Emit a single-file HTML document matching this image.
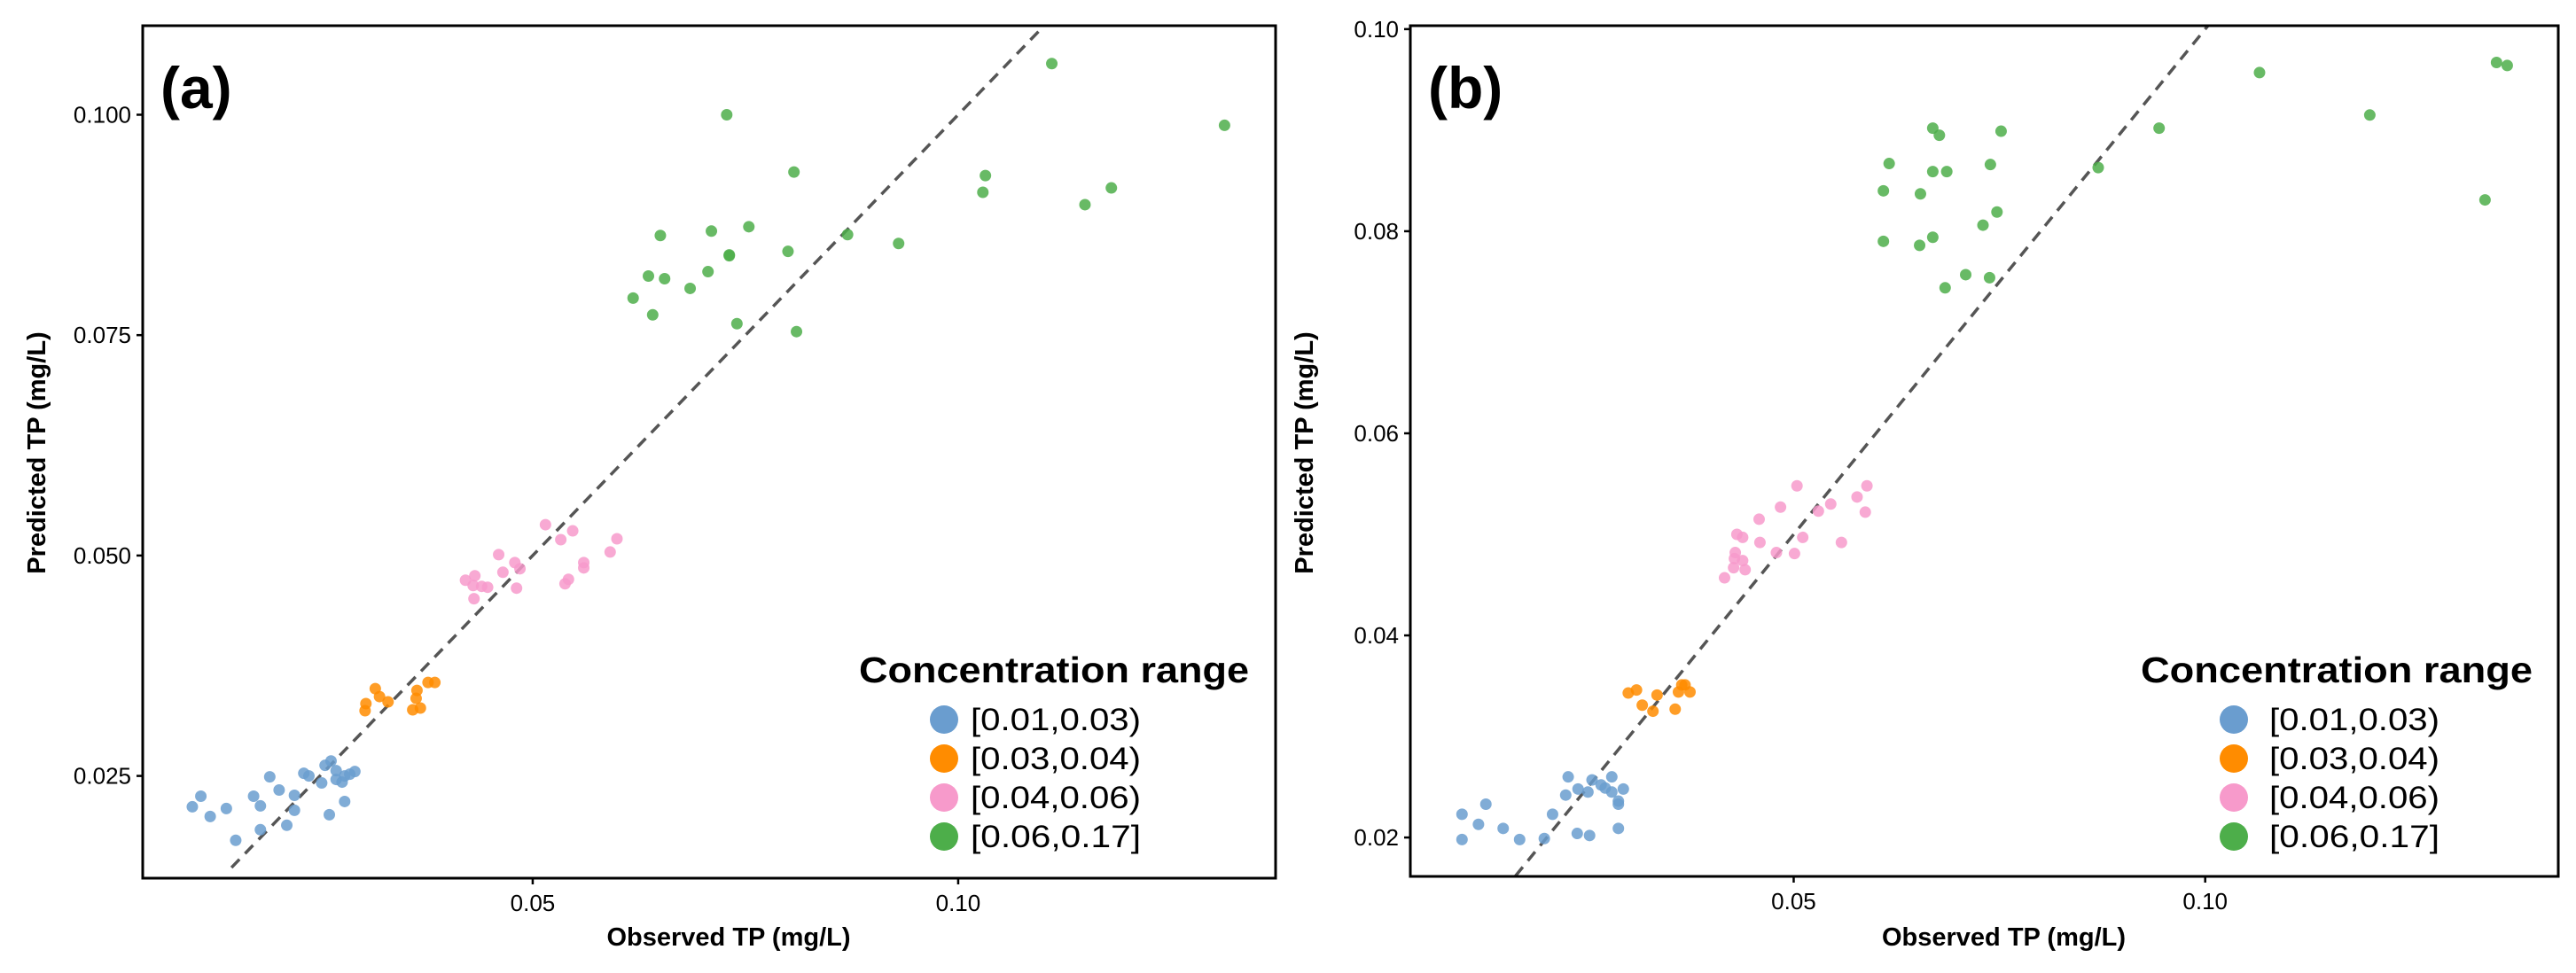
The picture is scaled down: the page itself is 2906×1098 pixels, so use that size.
<!DOCTYPE html>
<html><head><meta charset="utf-8"><style>
html,body{margin:0;padding:0;background:#fff;}
svg text{font-family:"Liberation Sans",sans-serif;fill:#000;}
</style></head><body>
<svg id="fig" width="2906" height="1093" xmlns="http://www.w3.org/2000/svg"></svg>
<script>
const groups = ['[0.01,0.03)','[0.03,0.04)','[0.04,0.06)','[0.06,0.17]'];
const colors = ['#6a9dcf','#ff8c00','#f79acb','#4dae4a'];
// Panel (a) data: [observed, predicted]
const aBlue = [[0.0100,0.0215],[0.0110,0.0227],[0.0121,0.0204],[0.0140,0.0213],[0.0151,0.0177],[0.0172,0.0227],[0.0180,0.0216],[0.0180,0.0189],[0.0191,0.0249],[0.0202,0.0234],[0.0211,0.0194],[0.0220,0.0228],[0.0220,0.0211],[0.0231,0.0253],[0.0237,0.0250],[0.0252,0.0242],[0.0256,0.0262],[0.0263,0.0267],[0.0261,0.0206],[0.0269,0.0256],[0.0269,0.0246],[0.0276,0.0243],[0.0279,0.0250],[0.0285,0.0252],[0.0291,0.0255],[0.0279,0.0221]];
const aOrange = [[0.0315,0.0349],[0.0320,0.0340],[0.0304,0.0332],[0.0303,0.0324],[0.0330,0.0334],[0.0364,0.0347],[0.0363,0.0338],[0.0359,0.0325],[0.0368,0.0327],[0.0377,0.0356],[0.0385,0.0356]];
const aPink = [[0.0515,0.0535],[0.0547,0.0528],[0.0533,0.0518],[0.0599,0.0519],[0.0591,0.0504],[0.0460,0.0501],[0.0479,0.0492],[0.0485,0.0485],[0.0465,0.0481],[0.0560,0.0492],[0.0560,0.0486],[0.0421,0.0472],[0.0432,0.0477],[0.0430,0.0466],[0.0440,0.0465],[0.0447,0.0464],[0.0431,0.0451],[0.0481,0.0463],[0.0538,0.0468],[0.0542,0.0473]];
const aGreen = [[0.1110,0.1058],[0.0728,0.1000],[0.1313,0.0988],[0.0807,0.0935],[0.1032,0.0931],[0.1029,0.0912],[0.1180,0.0917],[0.1149,0.0898],[0.0650,0.0863],[0.0710,0.0868],[0.0754,0.0873],[0.0870,0.0864],[0.0930,0.0854],[0.0800,0.0845],[0.0731,0.0841],[0.0731,0.0840],[0.0636,0.0817],[0.0655,0.0814],[0.0706,0.0822],[0.0685,0.0803],[0.0618,0.0792],[0.0641,0.0773],[0.0740,0.0763],[0.0810,0.0754]];
const aXTicks = [0.05,0.10];
const aXLabels = ['0.05','0.10'];
const aYTicks = [0.025,0.050,0.075,0.100];
const aYLabels = ['0.025','0.050','0.075','0.100'];
// Panel (b) data
const bBlue = [[0.0097,0.0223],[0.0097,0.0198],[0.0126,0.0233],[0.0117,0.0213],[0.0147,0.0209],[0.0167,0.0198],[0.0197,0.0199],[0.0207,0.0223],[0.0226,0.0260],[0.0223,0.0242],[0.0238,0.0248],[0.0237,0.0204],[0.0252,0.0202],[0.0250,0.0245],[0.0255,0.0257],[0.0266,0.0252],[0.0271,0.0249],[0.0279,0.0260],[0.0279,0.0245],[0.0287,0.0236],[0.0287,0.0233],[0.0293,0.0248],[0.0287,0.0209]];
const bOrange = [[0.0299,0.0343],[0.0309,0.0346],[0.0316,0.0331],[0.0329,0.0325],[0.0334,0.0341],[0.0356,0.0327],[0.0360,0.0344],[0.0364,0.0351],[0.0368,0.0351],[0.0374,0.0344]];
const bPink = [[0.0504,0.0548],[0.0589,0.0548],[0.0577,0.0537],[0.0484,0.0527],[0.0545,0.0530],[0.0530,0.0523],[0.0587,0.0522],[0.0458,0.0515],[0.0431,0.0500],[0.0438,0.0497],[0.0511,0.0497],[0.0459,0.0492],[0.0558,0.0492],[0.0479,0.0482],[0.0501,0.0481],[0.0429,0.0482],[0.0428,0.0476],[0.0438,0.0474],[0.0427,0.0467],[0.0441,0.0465],[0.0416,0.0457]];
const bGreen = [[0.1066,0.0957],[0.1354,0.0967],[0.1367,0.0964],[0.1200,0.0915],[0.1340,0.0831],[0.0944,0.0902],[0.0669,0.0902],[0.0677,0.0895],[0.0752,0.0899],[0.0616,0.0867],[0.0669,0.0859],[0.0686,0.0859],[0.0739,0.0866],[0.0870,0.0863],[0.0609,0.0840],[0.0654,0.0837],[0.0747,0.0819],[0.0730,0.0806],[0.0609,0.0790],[0.0669,0.0794],[0.0653,0.0786],[0.0709,0.0757],[0.0738,0.0754],[0.0684,0.0744]];
const bXTicks = [0.05,0.10];
const bXLabels = ['0.05','0.10'];
const bYTicks = [0.02,0.04,0.06,0.08,0.10];
const bYLabels = ['0.02','0.04','0.06','0.08','0.10'];

const NS='http://www.w3.org/2000/svg';
const svg=document.getElementById('fig');
function mk(tag,attrs,parent){const e=document.createElementNS(NS,tag);for(const k in attrs)e.setAttribute(k,attrs[k]);(parent||svg).appendChild(e);return e;}

function panel(cfg){
  const g=mk('g',{});
  
  
  const xs=v=>cfg.L+(v-cfg.x0)/(cfg.x1-cfg.x0)*(cfg.R-cfg.L);
  const ys=v=>cfg.B-(v-cfg.y0)/(cfg.y1-cfg.y0)*(cfg.B-cfg.T);
  // dashed 1:1 line
  const ln=mk('line',{x1:xs(cfg.lineStart),y1:ys(cfg.lineStart),x2:xs(cfg.lineEnd),y2:ys(cfg.lineEnd),stroke:'#555',"stroke-width":3.5,"stroke-dasharray":'13 9'},g);
  
  
  // points
  const series=[cfg.blue,cfg.orange,cfg.pink,cfg.green];
  series.forEach((arr,si)=>{
    arr.forEach(p=>{
      const c=mk('circle',{cx:xs(p[0]),cy:ys(p[1]),r:6.5,fill:colors[si],"fill-opacity":0.85},g);
      
      
    });
  });
  // box
  const box=mk('rect',{x:cfg.L,y:cfg.T,width:cfg.R-cfg.L,height:cfg.B-cfg.T,fill:'none',stroke:'#000',"stroke-width":3},g);
  
  
  // y ticks
  cfg.yt.forEach((v,i)=>{
    const y=ys(v);
    mk('line',{x1:cfg.L-7,x2:cfg.L,y1:y,y2:y,stroke:'#000',"stroke-width":2.5},g);
    const t=mk('text',{x:cfg.L-13,y:y+9,"text-anchor":'end',"font-size":26,fill:'#222'},g);
    t.textContent=cfg.yl[i];
    
    
  });
  cfg.xt.forEach((v,i)=>{
    const x=xs(v);
    mk('line',{x1:x,x2:x,y1:cfg.B,y2:cfg.B+7,stroke:'#000',"stroke-width":2.5},g);
    const t=mk('text',{x:x,y:cfg.B+37,"text-anchor":'middle',"font-size":26,fill:'#222'},g);
    t.textContent=cfg.xl[i];
    
    
  });
  const xt=mk('text',{x:(cfg.L+cfg.R)/2+22,y:1067,"text-anchor":'middle',"font-size":29,"font-weight":'bold'},g);
  xt.textContent='Observed TP (mg/L)';
  
  
  const yt=mk('text',{x:0,y:0,"text-anchor":'middle',"font-size":29,"font-weight":'bold',transform:`translate(${cfg.L-110},511) rotate(-90)`},g);
  yt.textContent='Predicted TP (mg/L)';
  
  
  const lab=mk('text',{x:cfg.L+20,y:122,"font-size":66,"font-weight":'bold'},g);
  lab.textContent=cfg.label;
  
  
  // legend
  const lg=mk('g',{},g);
  
  
  const lt=mk('text',{x:cfg.legX,y:770,"font-size":41,"font-weight":'bold',textLength:cfg.legW,lengthAdjust:'spacingAndGlyphs'},lg);
  lt.textContent='Concentration range';
  
  
  groups.forEach((gname,i)=>{
    const cy=812+i*44;
    const c=mk('circle',{cx:cfg.legCX,cy:cy,r:16,fill:colors[i]},lg);
    
    
    const t=mk('text',{x:cfg.legTX,y:cy+12,"font-size":35,textLength:192,lengthAdjust:'spacingAndGlyphs'},lg);
    t.textContent=gname;
    
    
  });
}

panel({id:'a',label:'(a)',L:161,R:1439,T:29,B:991,x0:0.00417,x1:0.1373,y0:0.0134,y1:0.1101,
  lineStart:0.0146,lineEnd:0.1101,blue:aBlue,orange:aOrange,pink:aPink,green:aGreen,
  xt:aXTicks,xl:aXLabels,yt:aYTicks,yl:aYLabels,legX:969,legW:440,legCX:1065,legTX:1095});
panel({id:'b',label:'(b)',L:1591,R:2886,T:29,B:989,x0:0.00342,x1:0.1429,y0:0.01615,y1:0.10034,
  lineStart:0.0162,lineEnd:0.10034,blue:bBlue,orange:bOrange,pink:bPink,green:bGreen,
  xt:bXTicks,xl:bXLabels,yt:bYTicks,yl:bYLabels,legX:2415,legW:442,legCX:2520,legTX:2560});
</script>
</body></html>
